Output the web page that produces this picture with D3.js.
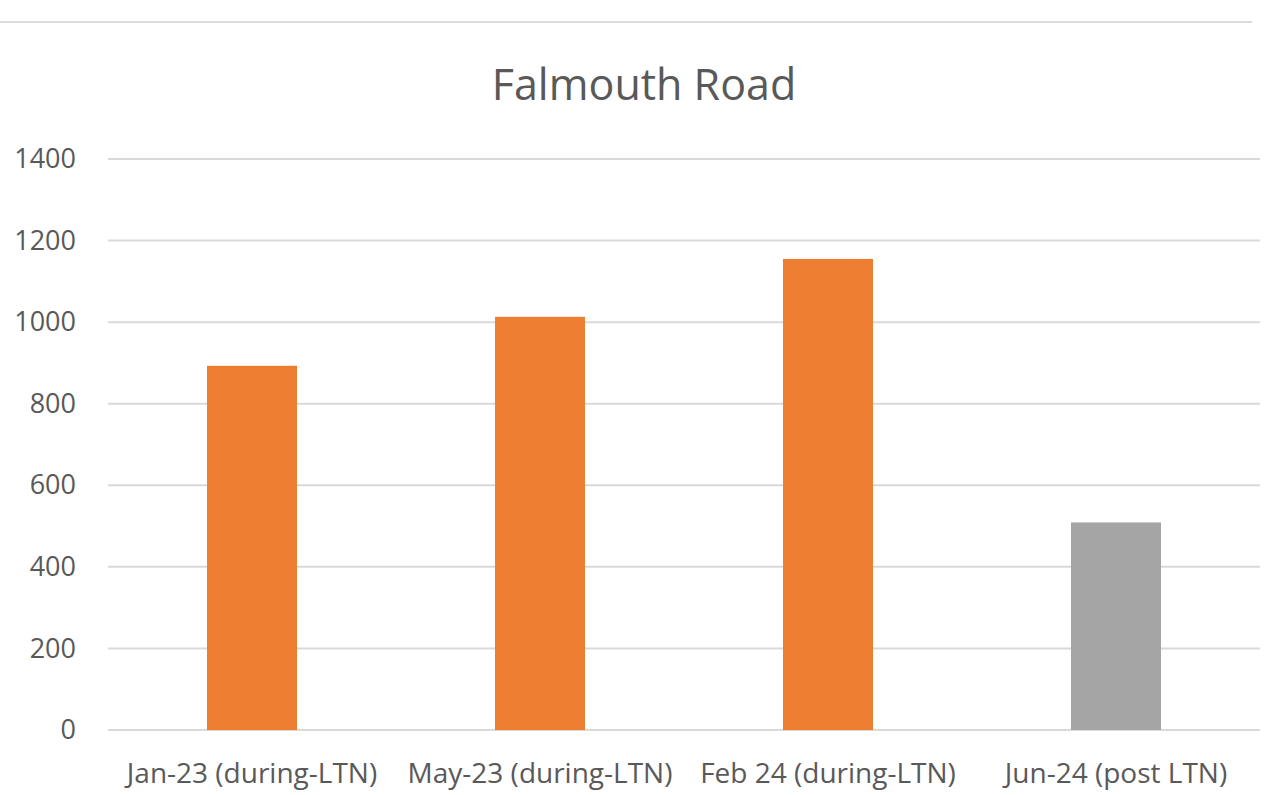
<!DOCTYPE html>
<html>
<head>
<meta charset="utf-8">
<script src="https://cdn.jsdelivr.net/npm/d3@7"></script>
<style>
  body { margin: 0; background: #fff; }
  text { font-family: "Open Sans", sans-serif; fill: #595959; }
</style>
</head>
<body>
<svg id="chart"></svg>
<script>
var categories = ["Jan-23 (during-LTN)", "May-23 (during-LTN)", "Feb 24 (during-LTN)", "Jun-24 (post LTN)"]
var values = [893, 1013, 1155, 509]
var barColors = ["#ed7d31", "#ed7d31", "#ed7d31", "#a5a5a5"]
var yTicks = [0, 200, 400, 600, 800, 1000, 1200, 1400]
var title = "Falmouth Road"

var width = 1276
var height = 795
var margin = {top: 159, right: 16, bottom: 65, left: 108}

var svg = d3.select("#chart")
    .attr("width", width)
    .attr("height", height)

// thin rule at the top of the screenshot
svg.append("line")
    .attr("x1", 0).attr("x2", 1252)
    .attr("y1", 22).attr("y2", 22)
    .attr("stroke", "#dcdcdc")
    .attr("stroke-width", 2)

svg.append("text")
    .attr("x", 644)
    .attr("y", 100)
    .attr("text-anchor", "middle")
    .style("font-size", "43px")
    .text(title)

var x = d3.scaleBand()
    .domain(categories)
    .range([margin.left, width - margin.right])
    .paddingInner(0.6875)
    .paddingOuter(0.34375)

var y = d3.scaleLinear()
    .domain([0, 1400])
    .range([height - margin.bottom, margin.top])

// gridlines
svg.append("g")
    .selectAll("line")
    .data(yTicks)
    .enter()
    .append("line")
    .attr("x1", margin.left)
    .attr("x2", width - margin.right)
    .attr("y1", function(d) { return y(d) })
    .attr("y2", function(d) { return y(d) })
    .attr("stroke", "#d9d9d9")
    .attr("stroke-width", 2)

var yAxis = svg.append("g")
    .attr("transform", "translate(" + (margin.left - 32) + ",0)")
    .call(d3.axisLeft(y).tickValues(yTicks).tickFormat(d3.format("d")).tickSize(0).tickPadding(0))
yAxis.select(".domain").remove()
yAxis.selectAll("text")
    .style("font-size", "27px")
    .attr("fill", "#595959")

svg.append("g")
    .selectAll("rect")
    .data(values)
    .enter()
    .append("rect")
    .attr("x", function(d, i) { return x(categories[i]) })
    .attr("y", function(d) { return y(d) })
    .attr("width", x.bandwidth())
    .attr("height", function(d) { return y(0) - y(d) })
    .attr("fill", function(d, i) { return barColors[i] })

var xAxis = svg.append("g")
    .attr("transform", "translate(0," + y(0) + ")")
    .call(d3.axisBottom(x).tickSize(0).tickPadding(33))
xAxis.select(".domain").remove()
xAxis.selectAll("text")
    .style("font-size", "28px")
    .attr("fill", "#595959")
</script>
</body>
</html>
